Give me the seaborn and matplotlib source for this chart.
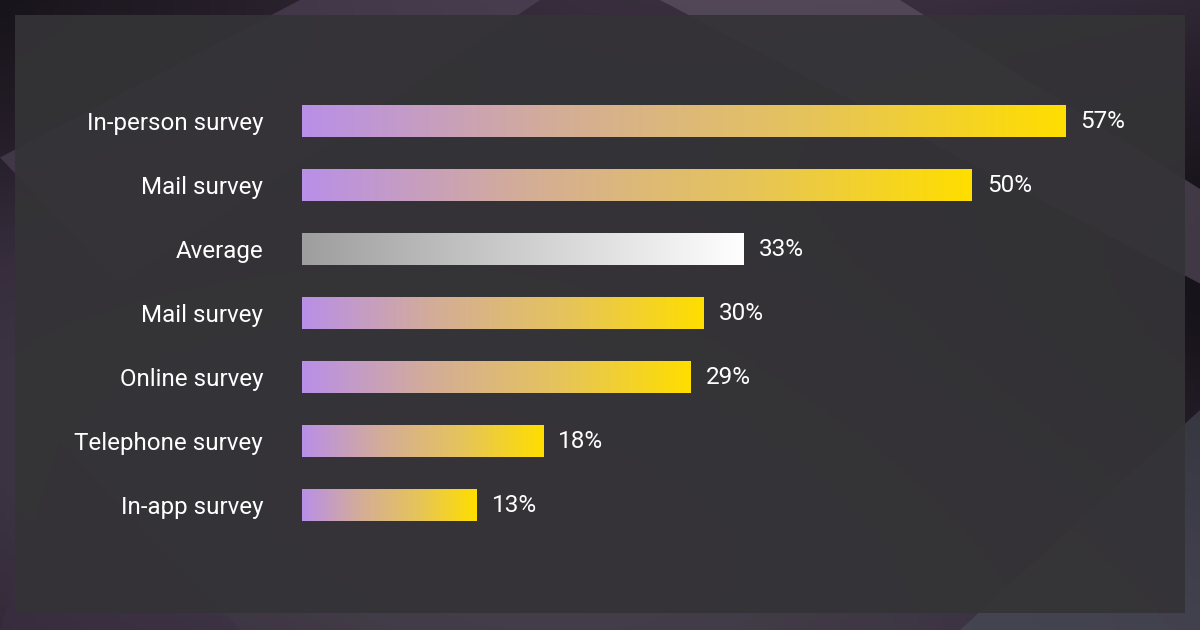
import numpy as np
import pandas as pd
import matplotlib.pyplot as plt
import seaborn as sns
from matplotlib.colors import LinearSegmentedColormap
from matplotlib.patches import Rectangle, Polygon

labels = ['In-person survey', 'Mail survey', 'Average', 'Mail survey',
          'Online survey', 'Telephone survey', 'In-app survey']
values = [57, 50, 33, 30, 29, 18, 13]
is_average = [False, False, True, False, False, False, False]

sns.set_theme(style='white')
plt.rcParams['font.family'] = ['Roboto', 'DejaVu Sans']

fig = plt.figure(figsize=(12, 6.3), dpi=100)
fig.patch.set_facecolor('#1f1a22')

# background: dark folds behind a translucent panel
bg = fig.add_axes([0, 0, 1, 1], zorder=-10)
bg.set_xlim(0, 1)
bg.set_ylim(0, 1)
bg.axis('off')
yy, xx = np.mgrid[0:1:200j, 0:1:200j]
shade = 0.5 + 0.5 * np.sin(3.0 * xx + 2.0 * yy) * np.cos(2.5 * yy - xx)
bg_cmap = LinearSegmentedColormap.from_list('bg', ['#17131a', '#3a3040', '#4a4550'])
bg.imshow(shade, extent=[0, 1, 0, 1], cmap=bg_cmap, aspect='auto', origin='lower', alpha=0.9)
folds = [
    [(0.0, 0.75), (0.25, 1.0), (0.45, 1.0), (0.1, 0.55)],
    [(0.55, 1.0), (0.75, 1.0), (1.0, 0.7), (1.0, 0.55)],
    [(0.0, 0.0), (0.2, 0.0), (0.05, 0.3)],
    [(0.8, 0.0), (1.0, 0.0), (1.0, 0.35)],
]
for pts, c in zip(folds, ['#5a4d63', '#6a6070', '#3a2f44', '#4e5560']):
    bg.add_patch(Polygon(pts, closed=True, facecolor=c, edgecolor='none', alpha=0.5))
bg.add_patch(Rectangle((15 / 1200, 17 / 630), 1170 / 1200, 598 / 630,
                       facecolor='#343336', edgecolor='none', alpha=0.93))

df = pd.DataFrame({'pos': [str(i) for i in range(len(labels))],
                   'value': values})

ax = fig.add_axes([302 / 1200, 93 / 630, 860 / 1200, 448 / 630])
ax.set_facecolor('none')
sns.barplot(data=df, x='value', y='pos', orient='h', width=0.5,
            color='#ffffff', ax=ax)

xlim = (0, 860 / 13.39)
ylim = ax.get_ylim()

bar_cmap = LinearSegmentedColormap.from_list(
    'bar', ['#b98fe8', '#d4ad97', '#e6c45a', '#ffde00'])
avg_cmap = LinearSegmentedColormap.from_list('avg', ['#9e9e9e', '#ffffff'])
grad = np.linspace(0, 1, 256).reshape(1, -1)

for patch, avg, v in zip(ax.patches, is_average, values):
    x0, y0 = patch.get_x(), patch.get_y()
    w, h = patch.get_width(), patch.get_height()
    patch.set_facecolor('none')
    patch.set_edgecolor('none')
    im = ax.imshow(grad, extent=[x0, x0 + w, y0 + h, y0], aspect='auto',
                   cmap=avg_cmap if avg else bar_cmap, zorder=2)
    im.set_clip_path(patch)
    ax.text(x0 + w + 1.15, y0 + h / 2, f'{v}%', va='center', ha='left',
            color='white', fontsize=17.5)

ax.set_xlim(*xlim)
ax.set_ylim(ylim)
ax.set_yticks(range(len(labels)))
ax.set_yticklabels(labels, color='white', fontsize=17.4)
ax.tick_params(axis='y', length=0, pad=28)
ax.set_xticks([])
ax.set_xlabel('')
ax.set_ylabel('')
sns.despine(ax=ax, left=True, bottom=True)

fig.savefig('out.png', dpi=100, facecolor=fig.get_facecolor())
